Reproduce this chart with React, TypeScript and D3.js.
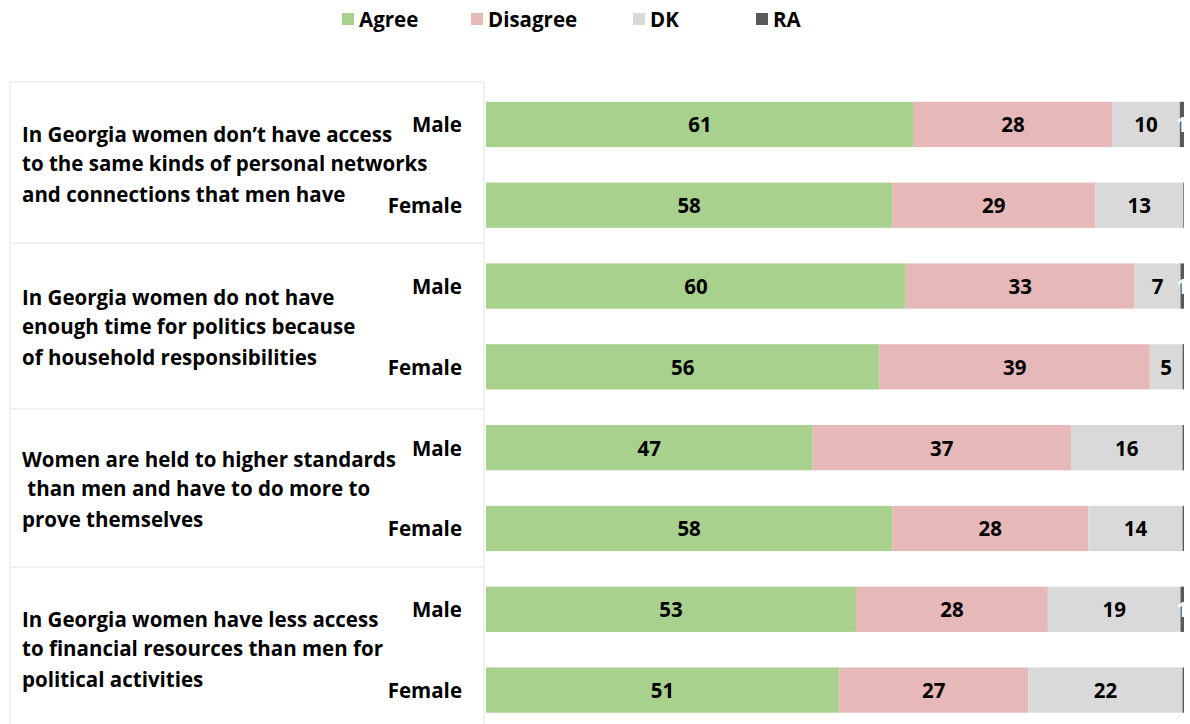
import React, { useEffect } from "react";
import * as d3 from "d3";

const seriesKeys = ["Agree", "Disagree", "DK", "RA"];
const seriesColors = ["#a9d18e", "#e6b9b8", "#d9d9d9", "#595959"];

const questions = [
  ["In Georgia women don’t have access", "to the same kinds of personal networks", "and connections that men have"],
  ["In Georgia women do not have", "enough time for politics because", "of household responsibilities"],
  ["Women are held to higher standards", " than men and have to do more to", "prove themselves"],
  ["In Georgia women have less access", "to financial resources than men for", "political activities"],
];
const genders = ["Male", "Female"];

const agree = [61.3, 58.2, 60.2, 56.4, 46.8, 58.2, 53.0, 50.6];
const disagree = [28.4, 29.1, 32.8, 38.7, 37.0, 28.1, 27.5, 27.1];
const dk = [9.7, 12.6, 6.6, 4.7, 16.0, 13.5, 19.0, 22.1];
const ra = [0.6, 0.1, 0.5, 0.2, 0.2, 0.2, 0.5, 0.2];

const W = 1190;
const H = 724;
const FONT = "'Open Sans', 'DejaVu Sans', sans-serif";
const FS = 20.5;

export default function App() {
  useEffect(() => {
    document.body.style.margin = "0";
  }, []);

  const rows = agree.map((a, i) => ({
    key: `q${Math.floor(i / 2)}-${genders[i % 2]}`,
    q: Math.floor(i / 2),
    gender: genders[i % 2],
    Agree: a,
    Disagree: disagree[i],
    DK: dk[i],
    RA: ra[i],
  }));

  const stack = d3.stack<any>().keys(seriesKeys).offset(d3.stackOffsetExpand);
  const stacked = stack(rows);

  const x = d3.scaleLinear().domain([0, 1]).range([486, 1184]);
  const y = d3
    .scaleBand<string>()
    .domain(rows.map((r) => r.key))
    .range([84, 730.5])
    .paddingInner(0.44)
    .paddingOuter(0.22);

  const legendX = [342, 471, 633, 756];
  const tableTop = 82;
  const groupBounds = [82, 243, 409, 567];
  const lineOffsets = [-29, 0, 31];
  const qCenters = [163, 326, 488, 648];

  return (
    <svg width={W} height={H} style={{ display: "block", background: "#fff" }} fontFamily={FONT}>
      {/* legend */}
      {seriesKeys.map((k, i) => (
        <g key={k}>
          <rect x={legendX[i]} y={13} width={12} height={12} fill={seriesColors[i]} />
          <text x={legendX[i] + 17} y={19} dominantBaseline="central" fontSize={FS} fontWeight={700} fill="#000">
            {k}
          </text>
        </g>
      ))}

      {/* table lines */}
      <g stroke="#ececec" strokeWidth={1.5} fill="none">
        <line x1={10} x2={10} y1={tableTop} y2={H} />
        <line x1={484} x2={484} y1={tableTop} y2={H} />
        {groupBounds.map((b, i) => (
          <line key={i} x1={10} x2={484} y1={b} y2={b} />
        ))}
      </g>

      {/* question texts */}
      {questions.map((lines, qi) => (
        <text key={qi} fontSize={FS} fontWeight={700} fill="#000">
          {lines.map((l, li) => (
            <tspan
              key={li}
              x={22}
              y={qCenters[qi] + lineOffsets[li]}
              dominantBaseline="central"
              style={{ whiteSpace: "pre" }}
            >
              {l}
            </tspan>
          ))}
        </text>
      ))}

      {/* gender labels */}
      {rows.map((r) => (
        <text
          key={r.key}
          x={462}
          y={(y(r.key) as number) + y.bandwidth() / 2}
          textAnchor="end"
          dominantBaseline="central"
          fontSize={FS}
          fontWeight={700}
          fill="#000"
        >
          {r.gender}
        </text>
      ))}

      {/* bars */}
      {stacked.map((s, si) => (
        <g key={s.key} fill={seriesColors[si]}>
          {s.map((d, di) => (
            <rect
              key={di}
              x={x(d[0])}
              y={y(rows[di].key)}
              width={Math.max(0, x(d[1]) - x(d[0]))}
              height={y.bandwidth()}
            />
          ))}
        </g>
      ))}

      {/* value labels */}
      {stacked.map((s, si) => (
        <g key={s.key + "-l"}>
          {s.map((d, di) => {
            const v = (rows[di] as any)[s.key] as number;
            const lbl = Math.round(v);
            if (lbl <= 0) return null;
            return (
              <text
                key={di}
                x={(x(d[0]) + x(d[1])) / 2}
                y={(y(rows[di].key) as number) + y.bandwidth() / 2}
                textAnchor="middle"
                dominantBaseline="central"
                fontSize={FS}
                fontWeight={700}
                fill={s.key === "RA" ? "#fff" : "#000"}
              >
                {lbl}
              </text>
            );
          })}
        </g>
      ))}
    </svg>
  );
}
